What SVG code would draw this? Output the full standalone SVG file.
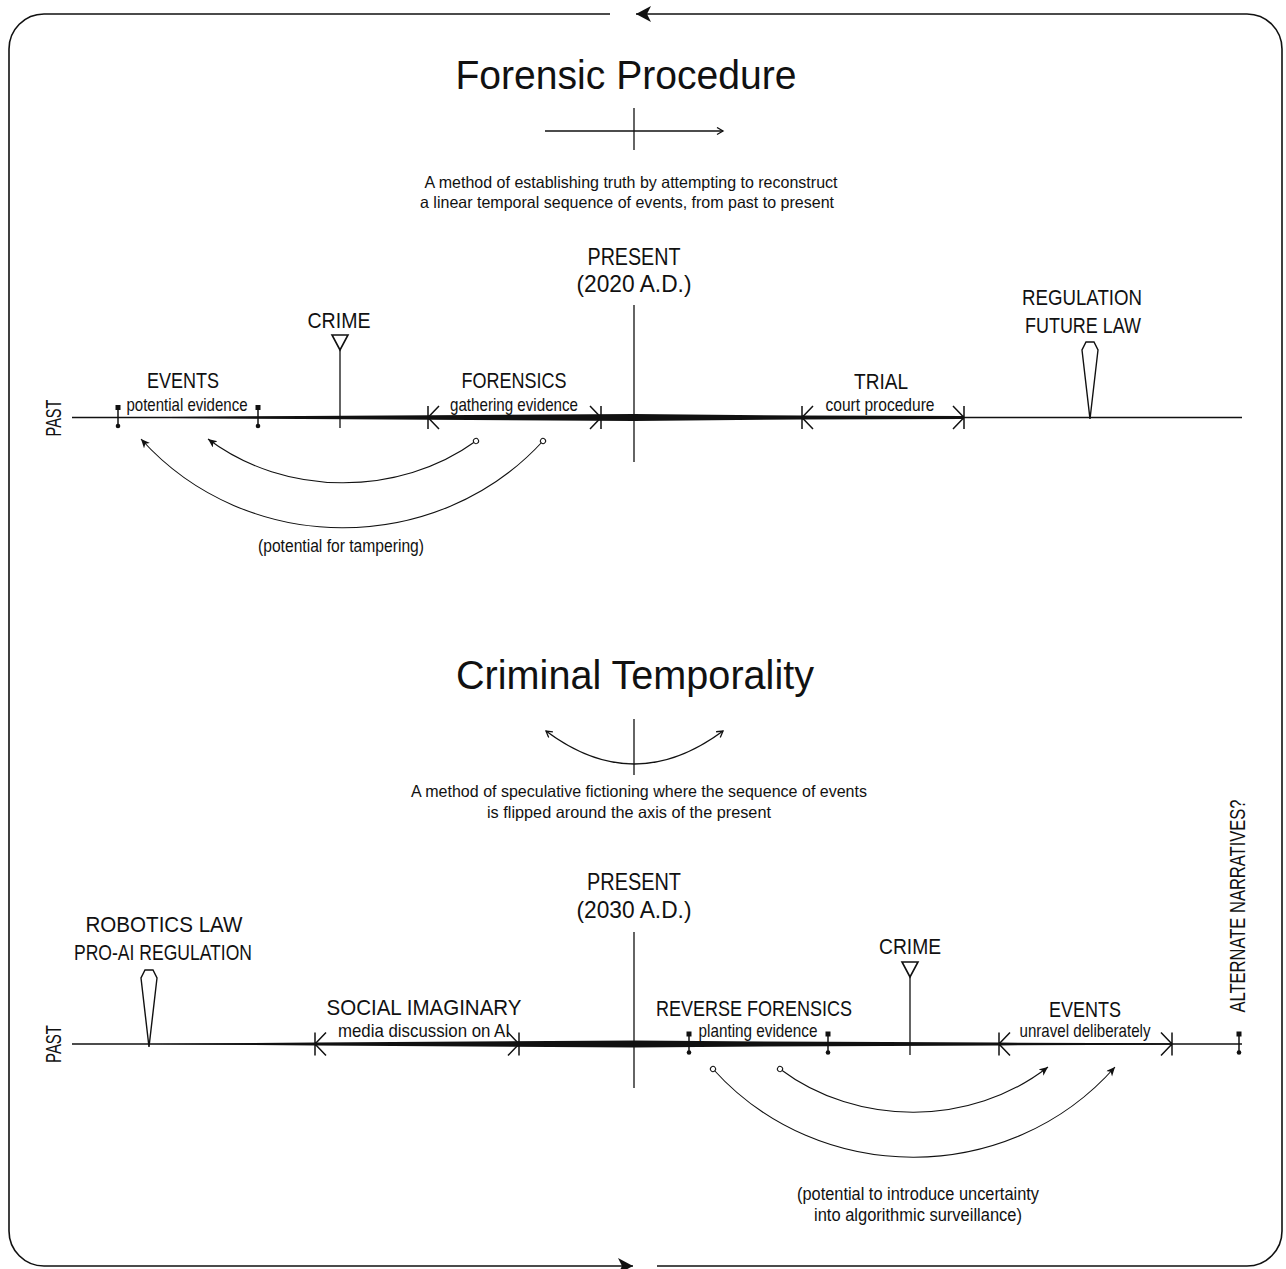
<svg xmlns="http://www.w3.org/2000/svg" width="1286" height="1269" viewBox="0 0 1286 1269">
  <style>
    text { font-family: "Liberation Sans Narrow", "Liberation Sans", Arial, sans-serif; fill: #111; }
    .title { font-size: 41px; text-anchor: middle; }
    .desc { font-size: 16.5px; text-anchor: middle; }
    .big { font-size: 22px; text-anchor: middle; }
    .present { font-size: 24px; text-anchor: middle; }
    .small { font-size: 18.5px; text-anchor: middle; }
    .note { font-size: 17.5px; text-anchor: middle; }
    .thin { fill: none; stroke: #111; stroke-width: 1.3; }
    .axis { fill: none; stroke: #111; stroke-width: 1.4; }
    .arc { fill: none; stroke: #111; stroke-width: 1.1; marker-start: url(#ring); marker-end: url(#head); }
    .frame { fill: none; stroke: #111; stroke-width: 1.6; marker-end: url(#bigHead); }
    .taper { fill: #111; stroke: none; }
    .mark { fill: #111; }
    .pen { fill: #fff; stroke: #111; stroke-width: 1.4; stroke-linejoin: miter; }
  </style>
  <defs>
    <marker id="head" markerUnits="userSpaceOnUse" markerWidth="12" markerHeight="10" refX="9" refY="4" orient="auto">
      <path d="M0,0 L9,4 L0,8 L2.5,4 Z" fill="#111"/>
    </marker>
    <marker id="ring" markerUnits="userSpaceOnUse" markerWidth="8" markerHeight="8" refX="4" refY="4" orient="auto">
      <circle cx="4" cy="4" r="2.6" fill="#fff" stroke="#111" stroke-width="1"/>
    </marker>
    <marker id="open" markerUnits="userSpaceOnUse" markerWidth="10" markerHeight="10" refX="7" refY="4" orient="auto-start-reverse">
      <path d="M1,0.5 L7,4 L1,7.5" fill="none" stroke="#111" stroke-width="1.3"/>
    </marker>
    <marker id="bigHead" markerUnits="userSpaceOnUse" markerWidth="18" markerHeight="18" refX="15" refY="8" orient="auto">
      <path d="M0,0 L15,8 L0,16 L4,8 Z" fill="#111"/>
    </marker>
    <!-- timeline tick: square cap, stem, dot -->
    <g id="tick">
      <rect x="-2.5" y="-12.5" width="5" height="5" class="mark"/>
      <line x1="0" y1="-10" x2="0" y2="8.5" stroke="#111" stroke-width="1.5"/>
      <circle cx="0" cy="8.5" r="2.3" class="mark"/>
    </g>
    <!-- span delimiters -->
    <path id="openL" d="M0,-11.5 V11.5 M11,-11.5 L0,0 L11,11.5" fill="none" stroke="#111" stroke-width="1.5"/>
    <path id="openR" d="M0,-11.5 V11.5 M-11,-11.5 L0,0 L-11,11.5" fill="none" stroke="#111" stroke-width="1.5"/>
    <!-- crime marker -->
    <g id="crime">
      <path d="M-8,0 H8 L0,15 Z" fill="#fff" stroke="#111" stroke-width="1.6"/>
    </g>
    <!-- regulation pen marker -->
    <path id="pen" d="M-4,0 H4 L8,8 L0,77 L-8,8 Z" class="pen"/>
  </defs>

  <!-- outer frame, circulating counter-clockwise -->
  <g id="frame">
    <path class="frame" d="M610,14 H44 A35,35 0 0 0 9,49 V1231 A35,35 0 0 0 44,1266 H633"/>
    <path class="frame" d="M657,1266 H1247 A35,35 0 0 0 1282,1231 V49 A35,35 0 0 0 1247,14 H636"/>
  </g>

  <!-- ===== Forensic Procedure ===== -->
  <g id="title-forensic">
    <text class="title" x="626" y="89" textLength="341" lengthAdjust="spacingAndGlyphs">Forensic Procedure</text>
  </g>
  <g id="icon-linear">
    <line class="thin" x1="545" y1="131" x2="723" y2="131" marker-end="url(#open)"/>
    <line class="thin" x1="634" y1="108" x2="634" y2="150"/>
  </g>
  <g id="desc-forensic">
    <text class="desc" x="631" y="188" textLength="413" lengthAdjust="spacingAndGlyphs">A method of establishing truth by attempting to reconstruct</text>
    <text class="desc" x="627" y="208" textLength="414" lengthAdjust="spacingAndGlyphs">a linear temporal sequence of events, from past to present</text>
  </g>

  <g id="timeline-1">
    <line class="axis" x1="72" y1="417.5" x2="1242" y2="417.5"/>
    <path class="taper" d="M110,417.5 L258,416.3 L430,415.2 L634,414 L802,415.5 L964,416 L964,419 L802,419.5 L634,421 L430,419.8 L258,418.7 Z"/>
    <line class="thin" x1="634" y1="305" x2="634" y2="462"/>
    <text class="big" x="-418" y="61" transform="rotate(-90)" textLength="37" lengthAdjust="spacingAndGlyphs">PAST</text>
  </g>

  <g id="present-2020">
    <text class="present" x="634" y="265" textLength="93" lengthAdjust="spacingAndGlyphs">PRESENT</text>
    <text class="present" x="634" y="292" textLength="115" lengthAdjust="spacingAndGlyphs">(2020 A.D.)</text>
  </g>

  <g id="events-1">
    <text class="big" x="183" y="388" textLength="72" lengthAdjust="spacingAndGlyphs">EVENTS</text>
    <text class="small" x="187" y="411" textLength="121" lengthAdjust="spacingAndGlyphs">potential evidence</text>
    <use href="#tick" x="118" y="417.5"/>
    <use href="#tick" x="258" y="417.5"/>
  </g>

  <g id="crime-1">
    <text class="big" x="339" y="328" textLength="63" lengthAdjust="spacingAndGlyphs">CRIME</text>
    <use href="#crime" x="340" y="335"/>
    <line class="thin" x1="340" y1="350" x2="340" y2="428"/>
  </g>

  <g id="forensics">
    <text class="big" x="514" y="388" textLength="105" lengthAdjust="spacingAndGlyphs">FORENSICS</text>
    <text class="small" x="514" y="411" textLength="128" lengthAdjust="spacingAndGlyphs">gathering evidence</text>
    <use href="#openL" x="428" y="417.5"/>
    <use href="#openR" x="601" y="417.5"/>
  </g>

  <g id="trial">
    <text class="big" x="881" y="389" textLength="54" lengthAdjust="spacingAndGlyphs">TRIAL</text>
    <text class="small" x="880" y="411" textLength="109" lengthAdjust="spacingAndGlyphs">court procedure</text>
    <use href="#openL" x="802" y="417.5"/>
    <use href="#openR" x="964" y="417.5"/>
  </g>

  <g id="regulation">
    <text class="big" x="1082" y="305" textLength="120" lengthAdjust="spacingAndGlyphs">REGULATION</text>
    <text class="big" x="1083" y="333" textLength="116" lengthAdjust="spacingAndGlyphs">FUTURE LAW</text>
    <use href="#pen" x="1090" y="342"/>
  </g>

  <g id="tampering">
    <text class="note" x="341" y="552" textLength="166" lengthAdjust="spacingAndGlyphs">(potential for tampering)</text>
  </g>

  <!-- ===== Criminal Temporality ===== -->
  <g id="title-criminal">
    <text class="title" x="635" y="689" textLength="358" lengthAdjust="spacingAndGlyphs">Criminal Temporality</text>
  </g>
  <g id="icon-flip">
    <path class="thin" d="M546,731 Q634,797 723,731" marker-start="url(#open)" marker-end="url(#open)"/>
    <line class="thin" x1="634" y1="719" x2="634" y2="775"/>
  </g>
  <g id="desc-criminal">
    <text class="desc" x="639" y="797" textLength="456" lengthAdjust="spacingAndGlyphs">A method of speculative fictioning where the sequence of events</text>
    <text class="desc" x="629" y="818" textLength="284" lengthAdjust="spacingAndGlyphs">is flipped around the axis of the present</text>
  </g>

  <g id="timeline-2">
    <line class="axis" x1="72" y1="1044" x2="1242" y2="1044"/>
    <path class="taper" d="M150,1044 L315,1042.5 L634,1040.6 L830,1041.8 L999,1042.6 L1172,1043.2 L1172,1044.8 L999,1045.4 L830,1046.2 L634,1047.4 L315,1045.5 Z"/>
    <line class="thin" x1="634" y1="932" x2="634" y2="1088"/>
    <text class="big" x="-1044" y="61" transform="rotate(-90)" textLength="38" lengthAdjust="spacingAndGlyphs">PAST</text>
  </g>

  <g id="present-2030">
    <text class="present" x="634" y="890" textLength="94" lengthAdjust="spacingAndGlyphs">PRESENT</text>
    <text class="present" x="634" y="918" textLength="115" lengthAdjust="spacingAndGlyphs">(2030 A.D.)</text>
  </g>

  <g id="robotics-law">
    <text class="big" x="164" y="932" textLength="157" lengthAdjust="spacingAndGlyphs">ROBOTICS LAW</text>
    <text class="big" x="163" y="960" textLength="178" lengthAdjust="spacingAndGlyphs">PRO-AI REGULATION</text>
    <use href="#pen" x="149" y="970"/>
  </g>

  <g id="social-imaginary">
    <text class="big" x="424" y="1015" textLength="195" lengthAdjust="spacingAndGlyphs">SOCIAL IMAGINARY</text>
    <text class="small" x="424" y="1037" textLength="172" lengthAdjust="spacingAndGlyphs">media discussion on AI</text>
    <use href="#openL" x="315" y="1044"/>
    <use href="#openR" x="519" y="1044"/>
  </g>

  <g id="reverse-forensics">
    <text class="big" x="754" y="1016" textLength="196" lengthAdjust="spacingAndGlyphs">REVERSE FORENSICS</text>
    <text class="small" x="758" y="1037" textLength="119" lengthAdjust="spacingAndGlyphs">planting evidence</text>
    <use href="#tick" x="689" y="1044"/>
    <use href="#tick" x="828" y="1044"/>
  </g>

  <g id="crime-2">
    <text class="big" x="910" y="954" textLength="62" lengthAdjust="spacingAndGlyphs">CRIME</text>
    <use href="#crime" x="910" y="962"/>
    <line class="thin" x1="910" y1="977" x2="910" y2="1055"/>
  </g>

  <g id="events-2">
    <text class="big" x="1085" y="1017" textLength="72" lengthAdjust="spacingAndGlyphs">EVENTS</text>
    <text class="small" x="1085" y="1037" textLength="131" lengthAdjust="spacingAndGlyphs">unravel deliberately</text>
    <use href="#openL" x="999" y="1044"/>
    <use href="#openR" x="1172" y="1044"/>
  </g>

  <g id="alternate-narratives">
    <text class="big" x="-906" y="1245" transform="rotate(-90)" textLength="213" lengthAdjust="spacingAndGlyphs">ALTERNATE NARRATIVES?</text>
    <use href="#tick" x="1239" y="1044"/>
  </g>

  <g id="uncertainty">
    <text class="note" x="918" y="1200" textLength="242" lengthAdjust="spacingAndGlyphs">(potential to introduce uncertainty</text>
    <text class="note" x="918" y="1221" textLength="208" lengthAdjust="spacingAndGlyphs">into algorithmic surveillance)</text>
  </g>

  <!-- connectors: evidence arcs -->
  <g id="connectors">
    <path class="arc" d="M476,441 C399,497 285,497 208,439"/>
    <path class="arc" d="M543,441 C437,557 247,557 141,439"/>
    <path class="arc" d="M780,1069 C857,1127 971,1127 1048,1067"/>
    <path class="arc" d="M713,1069 C819,1187 1009,1187 1115,1067"/>
  </g>
</svg>
